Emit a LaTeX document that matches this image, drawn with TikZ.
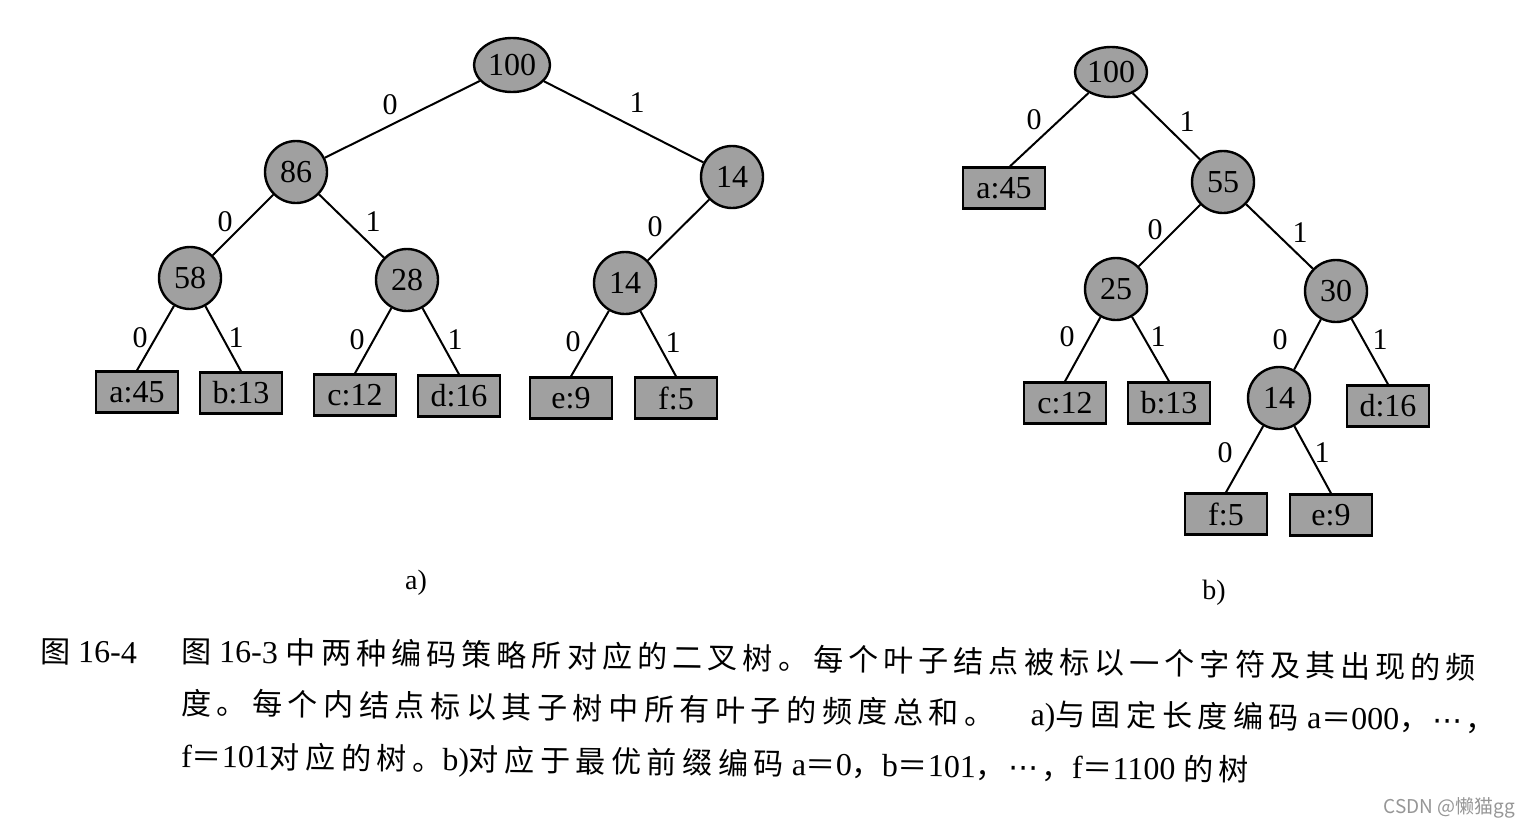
\documentclass[tikz,border=0pt]{standalone}
\usepackage{fontspec}
\setmainfont{Liberation Serif}
\newfontfamily\cjkA[LetterSpace=17.2]{Noto Sans CJK SC}
\newfontfamily\cjkB[LetterSpace=18.7]{Noto Sans CJK SC}
\newfontfamily\cjkP[LetterSpace=11]{Noto Sans CJK SC}
\newfontfamily\cjkw{Noto Sans CJK SC}
\newfontfamily\dejavu{DejaVu Sans}
\usetikzlibrary{shapes.geometric}
\definecolor{nodegray}{RGB}{160,160,160}
\definecolor{wmgray}{RGB}{150,150,150}
\begin{document}
\begin{tikzpicture}[x=1pt,y=-1pt,
  innern/.style={circle,draw,fill=nodegray,line width=2.4pt,minimum size=62pt,inner sep=0pt,font=\fontsize{32}{36}\selectfont},
  rootn/.style={ellipse,draw,fill=nodegray,line width=2.4pt,minimum width=76pt,minimum height=54pt,inner sep=0pt,font=\fontsize{32}{36}\selectfont},
  leafn/.style={rectangle,draw,fill=nodegray,line width=2.4pt,minimum width=82pt,minimum height=41pt,inner sep=0pt,font=\fontsize{32}{36}\selectfont},
  edgeline/.style={line width=2pt},
  bitl/.style={font=\fontsize{30}{34}\selectfont,inner sep=0pt},
  sublabel/.style={font=\fontsize{28}{32}\selectfont,inner sep=0pt},
  capline/.style={anchor=base west,inner sep=0pt,rotate=-0.75,font=\fontsize{32}{36}\selectfont}
]
\useasboundingbox (0,0) rectangle (1530,830);
\fill[white] (0,0) rectangle (1530,830);

% ---- tree a ----
\node[rootn] (a100) at (512,65) {100};
\node[innern] (a86) at (296,172) {86};
\node[innern] (a14r) at (732,177) {14};
\node[innern] (a58) at (190,278) {58};
\node[innern] (a28) at (407,280) {28};
\node[innern] (a14) at (625,283) {14};
\node[leafn] (aa) at (137,392) {a:45};
\node[leafn] (ab) at (241,393) {b:13};
\node[leafn] (ac) at (355,395) {c:12};
\node[leafn] (ad) at (459,396) {d:16};
\node[leafn] (ae) at (571,398) {e:9};
\node[leafn] (af) at (676,398) {f:5};
\draw[edgeline] (a100) -- (a86);
\draw[edgeline] (a100) -- (a14r);
\draw[edgeline] (a86) -- (a58);
\draw[edgeline] (a86) -- (a28);
\draw[edgeline] (a14r) -- (a14);
\draw[edgeline] (a58) -- (aa.north);
\draw[edgeline] (a58) -- (ab.north);
\draw[edgeline] (a28) -- (ac.north);
\draw[edgeline] (a28) -- (ad.north);
\draw[edgeline] (a14) -- (ae.north);
\draw[edgeline] (a14) -- (af.north);
\node[bitl] (la1) at (390,105) {0};
\node[bitl] (la2) at (637,103) {1};
\node[bitl] (la3) at (225,222) {0};
\node[bitl] (la4) at (373,222) {1};
\node[bitl] (la5) at (655,227) {0};
\node[bitl] (la6) at (140,338) {0};
\node[bitl] (la7) at (236,338) {1};
\node[bitl] (la8) at (357,340) {0};
\node[bitl] (la9) at (455,340) {1};
\node[bitl] (la10) at (573,342) {0};
\node[bitl] (la11) at (673,343) {1};
\node[sublabel] (suba) at (416,583) {a)};

% ---- tree b ----
\node[rootn,minimum width=72pt,minimum height=50pt] (b100) at (1111,72) {100};
\node[leafn] (ba) at (1004,188) {a:45};
\node[innern] (b55) at (1223,182) {55};
\node[innern] (b25) at (1116,289) {25};
\node[innern] (b30) at (1336,291) {30};
\node[leafn] (bc) at (1065,403) {c:12};
\node[leafn] (bb) at (1169,403) {b:13};
\node[innern] (b14) at (1279,398) {14};
\node[leafn] (bd) at (1388,406) {d:16};
\node[leafn] (bf) at (1226,514) {f:5};
\node[leafn] (be) at (1331,515) {e:9};
\draw[edgeline] (b100) -- ([xshift=6pt]ba.north);
\draw[edgeline] (b100) -- (b55);
\draw[edgeline] (b55) -- (b25);
\draw[edgeline] (b55) -- (b30);
\draw[edgeline] (b25) -- (bc.north);
\draw[edgeline] (b25) -- (bb.north);
\draw[edgeline] (b30) -- (b14);
\draw[edgeline] (b30) -- (bd.north);
\draw[edgeline] (b14) -- (bf.north);
\draw[edgeline] (b14) -- (be.north);
\node[bitl] (lb1) at (1034,120) {0};
\node[bitl] (lb2) at (1187,122) {1};
\node[bitl] (lb3) at (1155,230) {0};
\node[bitl] (lb4) at (1300,233) {1};
\node[bitl] (lb5) at (1067,337) {0};
\node[bitl] (lb6) at (1158,337) {1};
\node[bitl] (lb7) at (1280,340) {0};
\node[bitl] (lb8) at (1380,340) {1};
\node[bitl] (lb9) at (1225,453) {0};
\node[bitl] (lb10) at (1322,453) {1};
\node[sublabel] (subb) at (1214,593) {b)};

% ---- caption ----
\node[capline] (fig) at (40,662) {{\fontsize{30}{34}\cjkw 图} 16-4};
\node[capline] (c1) at (181,662) {{\fontsize{30}{34}\cjkA 图} 16-3 {\fontsize{30}{34}\cjkA 中两种编码策略所对应的二叉树。每个叶子结点被标以一个字符及其出现的频}};
\node[capline] (c2) at (181,714) {{\fontsize{30}{34}\cjkB 度。每个内结点标以其子树中所有叶子的频度总和。}\hspace{36pt}a){\fontsize{30}{34}\cjkB 与固定长度编码} a{\fontsize{30}{34}\cjkP ＝}000{\fontsize{30}{34}\cjkP ，{\dejavu\hspace{3pt}⋯\hspace{3pt}}，}};
\node[capline] (c3) at (181,767) {f{\fontsize{30}{34}\cjkP ＝}101{\fontsize{30}{34}\cjkB 对应的树。}b){\fontsize{30}{34}\cjkB 对应于最优前缀编码} a{\fontsize{30}{34}\cjkP ＝}0{\fontsize{30}{34}\cjkP ，}b{\fontsize{30}{34}\cjkP ＝}101{\fontsize{30}{34}\cjkP ，{\dejavu\hspace{3pt}⋯\hspace{3pt}}，}f{\fontsize{30}{34}\cjkP ＝}1100 {\fontsize{30}{34}\cjkB 的树}};
\node[anchor=east,inner sep=0pt,text=wmgray,font=\cjkw\fontsize{19}{22}\selectfont] (wm) at (1515,808) {CSDN @懒猫gg};
\end{tikzpicture}
\end{document}
